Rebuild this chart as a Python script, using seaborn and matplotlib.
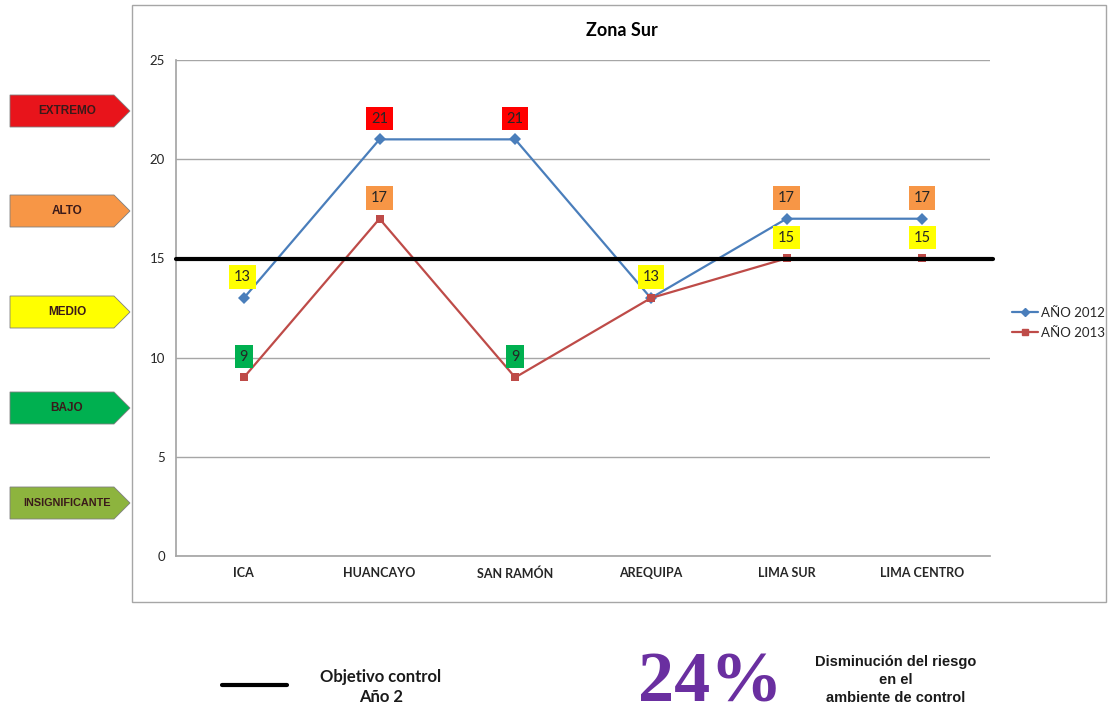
import matplotlib
matplotlib.use("Agg")
import matplotlib.pyplot as plt
from matplotlib.patches import Polygon, Rectangle
from matplotlib.lines import Line2D
import seaborn as sns
import pandas as pd

# Datos del gráfico
zonas = ["ICA", "HUANCAYO", "SAN RAMÓN", "AREQUIPA", "LIMA SUR", "LIMA CENTRO"]
riesgo_2012 = [13, 21, 21, 13, 17, 17]
riesgo_2013 = [9, 17, 9, 13, 15, 15]
objetivo = 15
niveles = ["EXTREMO", "ALTO", "MEDIO", "BAJO", "INSIGNIFICANTE"]
colores_niveles = ["#E8141B", "#F79646", "#FFFF00", "#00B050", "#8DB43E"]

def color_etiqueta(v):
    if v >= 20:
        return "#FF0000"
    if v >= 16:
        return "#F79646"
    if v >= 11:
        return "#FFFF00"
    return "#00B050"

df = pd.DataFrame({
    "zona": zonas * 2,
    "valor": riesgo_2012 + riesgo_2013,
    "serie": ["AÑO 2012"] * len(zonas) + ["AÑO 2013"] * len(zonas),
})

sns.set_theme(style="white")
plt.rcParams["font.family"] = ["Lato", "DejaVu Sans"]

W, H = 1108, 720
fig = plt.figure(figsize=(W / 100, H / 100), dpi=100)
fig.patch.set_facecolor("white")

# Marco del gráfico
fig.patches.append(Rectangle((132 / W, 1 - 602 / H), (1106 - 132) / W, (602 - 5) / H,
                             transform=fig.transFigure, fill=False, edgecolor="#A6A6A6", lw=1))

ax = fig.add_axes([176 / W, 1 - 556 / H, 814 / W, 496 / H])
sns.lineplot(data=df, x="zona", y="valor", hue="serie", style="serie",
             markers={"AÑO 2012": "D", "AÑO 2013": "s"}, dashes=False,
             palette={"AÑO 2012": "#4A7EBB", "AÑO 2013": "#BE4B48"},
             markersize=6, markeredgewidth=0, lw=1.6, ax=ax, legend=False)

ax.set_xlim(-0.5, len(zonas) - 0.5)
ax.set_ylim(0, 25)
ax.set_yticks([0, 5, 10, 15, 20, 25])
ax.yaxis.grid(True, color="#A6A6A6", lw=1)
ax.set_xlabel("")
ax.set_ylabel("")
for s in ["top", "right"]:
    ax.spines[s].set_visible(False)
for s in ["left", "bottom"]:
    ax.spines[s].set_color("#A6A6A6")
ax.tick_params(axis="x", labelsize=9, pad=8, length=0)
ax.tick_params(axis="y", labelsize=9.5, pad=8, length=0)
for t in ax.get_xticklabels():
    t.set_fontweight("bold")

# Línea objetivo
ax.plot([-0.5, 5.52], [objetivo - 0.05, objetivo - 0.05], color="black", lw=3,
        clip_on=False, zorder=5)

# Etiquetas de datos
def etiqueta(x, v, dx=0):
    ax.annotate(str(v), (x, v), xytext=(dx, 15), textcoords="offset points",
                ha="center", va="center", fontsize=10.5, color="#262626",
                bbox=dict(boxstyle="square,pad=0.33", fc=color_etiqueta(v), ec="none"),
                zorder=6)

for i, v in enumerate(riesgo_2012):
    etiqueta(i, v, dx=-1 if i == 0 else 0)
for i, v in enumerate(riesgo_2013):
    if i != 3:
        etiqueta(i, v)

# Leyenda
handles = [Line2D([], [], color="#4A7EBB", marker="D", markersize=4, lw=1.6),
           Line2D([], [], color="#BE4B48", marker="s", markersize=5, lw=1.6)]
fig.legend(handles, ["AÑO 2012", "AÑO 2013"], loc="center left",
           bbox_to_anchor=(1000 / W, 1 - 323 / H), frameon=False, fontsize=9.5,
           handlelength=2.0, handletextpad=0.2, labelspacing=0.6)

fig.text(622 / W, 1 - 30 / H, "Zona Sur", ha="center", va="center",
         fontsize=13, fontweight="bold", color="black")

# Flechas de niveles de riesgo
centros = [111, 211, 312, 408, 503]
for nombre, col, cy in zip(niveles, colores_niveles, centros):
    x0, x1, x2 = 10, 114, 130
    h = 16
    pts = [(x0, cy - h), (x1, cy - h), (x2, cy), (x1, cy + h), (x0, cy + h)]
    pts = [(px / W, 1 - py / H) for px, py in pts]
    fig.patches.append(Polygon(pts, closed=True, transform=fig.transFigure,
                               fc=col, ec="#7F7F7F", lw=0.6))
    fig.text(67 / W, 1 - cy / H, nombre, ha="center", va="center",
             fontsize=7.8 if nombre == "INSIGNIFICANTE" else 8.5, fontweight="bold",
             color="#3A1A1A", family=["Liberation Sans", "DejaVu Sans"])

# Parte inferior
fig.add_artist(Line2D([222 / W, 287 / W], [1 - 685 / H, 1 - 685 / H], color="black", lw=3))
fig.text(381 / W, 1 - 687 / H, "Objetivo control\nAño 2", ha="center", va="center",
         fontsize=12, fontweight="bold", color="#1A1A1A", linespacing=1.35)
fig.text(710 / W, 1 - 684 / H, "24%", ha="center", va="center", fontsize=52,
         fontweight="bold", color="#6A2FA0", family=["Liberation Serif", "DejaVu Serif"])
fig.text(896 / W, 1 - 680 / H, "Disminución del riesgo\nen el\nambiente de control",
         ha="center", va="center", fontsize=10.5, fontweight="bold", color="#1A1A1A",
         family=["Liberation Sans", "DejaVu Sans"], linespacing=1.35)

fig.savefig("out.png", dpi=100, facecolor="white")
